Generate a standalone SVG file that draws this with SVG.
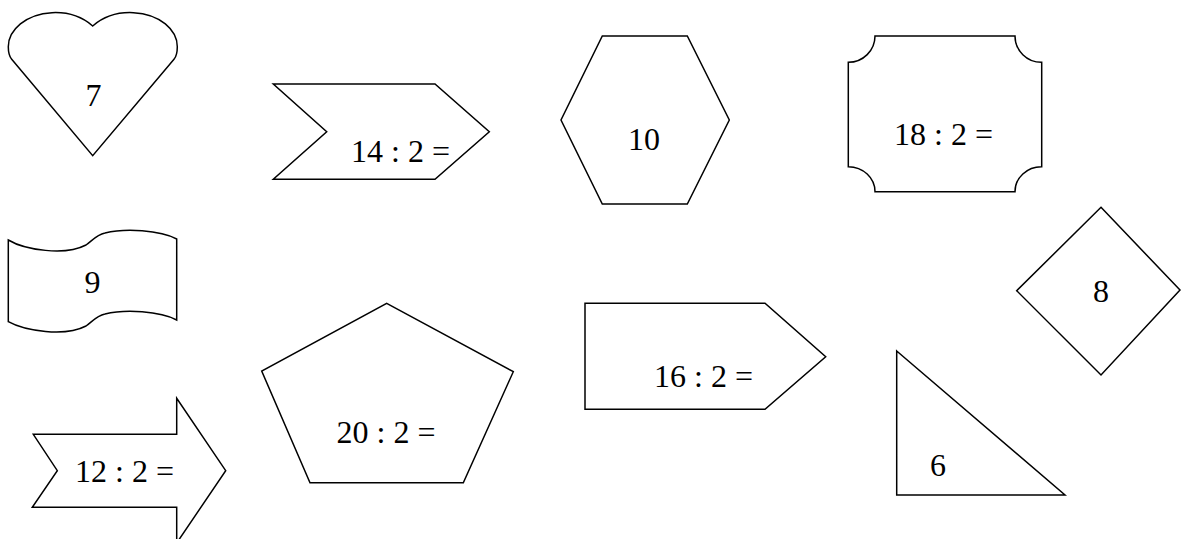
<svg xmlns="http://www.w3.org/2000/svg" width="1185" height="539" viewBox="0 0 1185 539">
<style>
.s{fill:#fff;stroke:#000;stroke-width:1.5;stroke-linejoin:miter}
.t{font-family:"Liberation Serif","Times New Roman",serif;font-size:32px;fill:#000}
</style>
<rect width="1185" height="539" fill="#fff"/>
<g id="heart">
<path class="s" d="M92.7,26 C80,15 66,12 52,12.7 C26,14 8.3,30 8.3,46.7 C8.3,52 9,56 11.7,59.3 L92.7,155.7 L174,59.3 C176.7,56 177.3,52 177.3,46.7 C177.3,30 160,14 133.4,12.7 C119.4,12 105.4,15 92.7,26 Z"/>
<text class="t" x="85.5" y="106">7</text>
</g>
<g id="chevron">
<polygon class="s" points="273.3,84 435,84 489.3,131.7 435,179.3 273.3,179.3 326.7,131.7"/>
<text class="t" x="351" y="161.7">14 : 2 =</text>
</g>
<g id="hexagon">
<polygon class="s" points="602.3,36 687.3,36 729.3,120 687.3,204 602.3,204 561,120"/>
<text class="t" x="628" y="150">10</text>
</g>
<g id="plaque">
<path class="s" d="M875,36 L1015,36 A26.5,26.3 0 0 0 1041.7,62.3 L1041.7,166.7 A26.5,25 0 0 0 1015,191.7 L875,191.7 A26.7,25 0 0 0 848.3,166.7 L848.3,62.3 A26.7,26.3 0 0 0 875,36 Z"/>
<text class="t" x="894" y="145">18 : 2 =</text>
</g>
<g id="tape">
<path class="s" d="M8.3,240 C25,250 65,256 86,245 C92,241 96,235 105,233 C125,228 160,230 176.7,239 L176.7,320 C160,311 125,309 105,314 C96,316 92,322 86,326 C65,337 25,331 8.3,321.7 Z"/>
<text class="t" x="84.5" y="293">9</text>
</g>
<g id="arrow">
<polygon class="s" points="33.3,434.3 176.7,434.3 176.7,398.3 225.7,470.7 176.7,543 176.7,507.3 32.3,507.3 57.3,470.7"/>
<text class="t" x="75" y="481.7">12 : 2 =</text>
</g>
<g id="pentagon">
<polygon class="s" points="386.7,303.3 513.3,371.7 463.3,482.7 310,482.7 261.7,371"/>
<text class="t" x="336.5" y="443.3">20 : 2 =</text>
</g>
<g id="pentarrow">
<polygon class="s" points="585,303.3 765,303.3 825.7,356.7 765,409.3 585,409.3"/>
<text class="t" x="654" y="386.7">16 : 2 =</text>
</g>
<g id="triangle">
<polygon class="s" points="896.7,351 1065,495 896.7,495"/>
<text class="t" x="930" y="475.7">6</text>
</g>
<g id="diamond">
<polygon class="s" points="1101,207.3 1180,290 1101,375 1016.7,290.7"/>
<text class="t" x="1093" y="302.3">8</text>
</g>
<g id="connectors"/>
</svg>
